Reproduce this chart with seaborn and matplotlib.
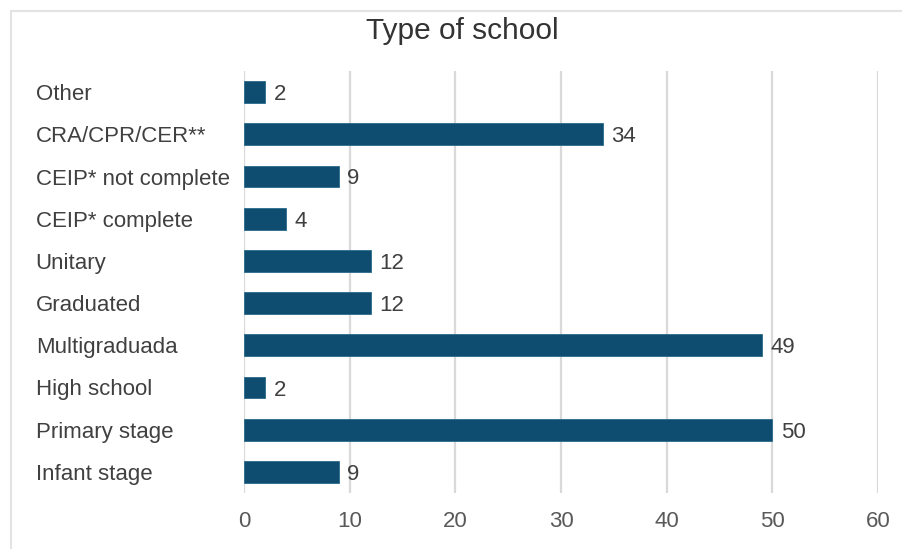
import matplotlib
matplotlib.use("Agg")
import matplotlib.pyplot as plt
import seaborn as sns
import pandas as pd
from matplotlib.patches import Rectangle

categories = ["Other", "CRA/CPR/CER**", "CEIP* not complete", "CEIP* complete",
              "Unitary", "Graduated", "Multigraduada", "High school",
              "Primary stage", "Infant stage"]
values = [2, 34, 9, 4, 12, 12, 49, 2, 50, 9]
x_ticks = [0, 10, 20, 30, 40, 50, 60]

df = pd.DataFrame({"category": categories, "value": values})

sns.set_theme(style="white")
plt.rcParams['font.family'] = ['Liberation Sans', 'DejaVu Sans']

fig = plt.figure(figsize=(9.03, 5.49), dpi=100)
ax = fig.add_axes([244/903, 1-493/549, (878-244)/903, (493-71)/549])

sns.barplot(data=df, x="value", y="category", order=categories, orient="h",
            color="#0E4D6F", saturation=1, width=0.52, ax=ax,
            edgecolor="#2a6a8c", linewidth=0.6)

ax.set_xlim(0, 60)
ax.set_xticks(x_ticks)
ax.set_xticklabels([str(t) for t in x_ticks])
ax.set_xlabel("")
ax.set_ylabel("")
ax.grid(axis="x", color="#d9d9d9", linewidth=1.6)
ax.grid(axis="y", visible=False)
ax.set_axisbelow(True)
for s in ax.spines.values():
    s.set_visible(False)

ax.tick_params(axis="x", length=0, pad=13, labelsize=16, labelcolor="#595959")
ax.tick_params(axis="y", length=0, pad=150, labelsize=16, labelcolor="#404040")
for lab in ax.get_yticklabels():
    lab.set_ha("left")
    lab.set_va("center_baseline")

for c in ax.containers:
    texts = ax.bar_label(c, labels=[str(v) for v in values], padding=6,
                         fontsize=16, color="#404040")
    for t in texts:
        t.set_va("center_baseline")

fig.text(462/903, 1-31/549, "Type of school", ha="center", va="center",
         fontsize=21.5, color="#333333")

fig.patches.append(Rectangle((11/903, -0.1), 1.2, 1 - 11/549 + 0.1,
                             transform=fig.transFigure, fill=False,
                             edgecolor="#e3e3e3", linewidth=1.5))

fig.savefig("out.png", dpi=100)
